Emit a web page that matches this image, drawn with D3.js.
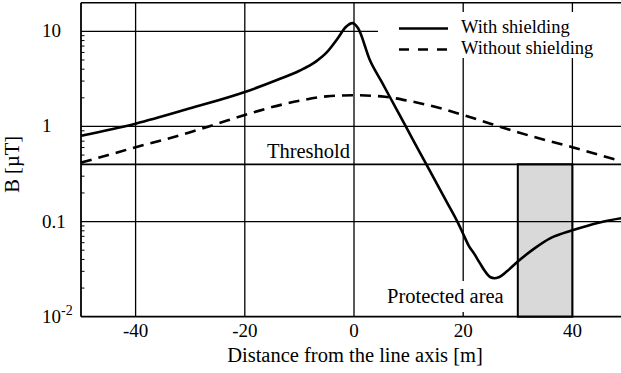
<!DOCTYPE html>
<html><head><meta charset="utf-8">
<script src="https://cdn.jsdelivr.net/npm/d3@7"></script>
<style>body{margin:0;background:#fff}</style>
</head><body><svg id="c" width="621" height="373"></svg>
<script>
const xTicks = [-40, -20, 0, 20, 40];
const yTicks = [0.01, 0.1, 1, 10];
const yTickLabels = ["10", "0.1", "1", "10"];
const xWith = [-50,-40,-30,-20,-14,-10,-7,-5,-3,-1.5,-0.3,0.75,2.9,5,8,11,14,17,19,20,21,22,23,24,25,25.7,26.5,28,30,33,36,40,45,50];
const yWith = [0.8,1.07,1.55,2.3,3.1,3.85,4.8,6.0,8.4,11.1,12.2,10.8,5.0,2.99,1.44,0.69,0.333,0.16,0.098,0.074,0.056,0.046,0.037,0.030,0.026,0.0254,0.026,0.030,0.038,0.052,0.067,0.081,0.098,0.111];
const xWithout = [-50,-45,-40,-35,-30,-25,-20,-15,-10,-5,0,5,10,15,20,25,30,35,40,45,50];
const yWithout = [0.417,0.50,0.605,0.72,0.87,1.07,1.32,1.60,1.86,2.07,2.13,2.07,1.86,1.60,1.32,1.07,0.87,0.72,0.605,0.50,0.417];
const threshold = 0.4;
const protectedArea = [30, 40];
const seriesNames = ["With shielding", "Without shielding"];

const svg = d3.select("#c");
const x = d3.scaleLinear().domain([-50, 50]).range([81, 627]);
const y = d3.scaleLog().domain([0.01, 20]).range([316.7, 2.7]);
const L = 81, R = 627, T = y(20), B = y(0.01);

svg.append("rect").attr("x", x(protectedArea[0])).attr("y", y(threshold))
  .attr("width", x(protectedArea[1]) - x(protectedArea[0])).attr("height", B - y(threshold))
  .attr("fill", "#d9d9d9").attr("stroke", "#000").attr("stroke-width", 2);

svg.append("g").selectAll("line").data(xTicks).join("line")
  .attr("x1", d => x(d)).attr("x2", d => x(d)).attr("y1", T).attr("y2", B)
  .attr("stroke", "#000").attr("stroke-width", 1.3);
svg.append("g").selectAll("line").data(yTicks.filter(d => d > 0.01)).join("line")
  .attr("x1", L).attr("x2", d => d === 10 ? 378 : R).attr("y1", d => y(d)).attr("y2", d => y(d))
  .attr("stroke", "#000").attr("stroke-width", 1.3);
svg.append("line").attr("x1", L).attr("x2", R).attr("y1", y(threshold)).attr("y2", y(threshold))
  .attr("stroke", "#000").attr("stroke-width", 1.8);

svg.append("rect").attr("x", 378).attr("y", 12).attr("width", 260).attr("height", 46).attr("fill", "#fff");
svg.append("rect").attr("x", 384).attr("y", 281).attr("width", 128).attr("height", 31).attr("fill", "#fff");

const minor = [];
[0.01, 0.1, 1].forEach(b => { for (let k = 2; k <= 9; k++) minor.push(b * k); });
svg.append("g").selectAll("line").data(minor).join("line")
  .attr("x1", L).attr("x2", L + 3.5).attr("y1", d => y(d)).attr("y2", d => y(d))
  .attr("stroke", "#000").attr("stroke-width", 1);

svg.append("line").attr("x1", L).attr("x2", R).attr("y1", T).attr("y2", T).attr("stroke", "#000").attr("stroke-width", 1.5);
svg.append("line").attr("x1", L).attr("x2", L).attr("y1", T).attr("y2", B).attr("stroke", "#000").attr("stroke-width", 1.8);
svg.append("line").attr("x1", L).attr("x2", R).attr("y1", B).attr("y2", B).attr("stroke", "#000").attr("stroke-width", 1.8);

const line = d3.line().x(d => x(d[0])).y(d => y(d[1])).curve(d3.curveMonotoneX);
svg.append("path").datum(xWithout.map((v, i) => [v, yWithout[i]])).attr("d", line)
  .attr("fill", "none").attr("stroke", "#000").attr("stroke-width", 2.6).attr("stroke-dasharray", "11,7");
svg.append("path").datum(xWith.map((v, i) => [v, yWith[i]])).attr("d", line)
  .attr("fill", "none").attr("stroke", "#000").attr("stroke-width", 2.6);

svg.append("line").attr("x1", 399).attr("x2", 448).attr("y1", 28.5).attr("y2", 28.5).attr("stroke", "#000").attr("stroke-width", 2.6);
svg.append("line").attr("x1", 399).attr("x2", 448).attr("y1", 49.5).attr("y2", 49.5).attr("stroke", "#000").attr("stroke-width", 2.6).attr("stroke-dasharray", "10,9");

const labels = [];
xTicks.forEach(d => labels.push({t: String(d), x: x(d), y: 337, s: 19, a: "middle"}));
yTicks.forEach((d, i) => labels.push({t: yTickLabels[i], x: 42, y: y(d) + 6, s: 19, a: "start", sup: d === 0.01 ? "-2" : null}));
labels.push({t: "Distance from the line axis [m]", x: 355, y: 362, s: 20.5, a: "middle"});
labels.push({t: "B [\u00B5T]", x: 0, y: 0, s: 20.5, a: "middle", tr: "translate(19," + y(0.4) + ") rotate(-90)"});
labels.push({t: "Threshold", x: 350, y: 158, s: 20.5, a: "end"});
labels.push({t: "Protected area", x: 387, y: 303, s: 20.5, a: "start"});
labels.push({t: seriesNames[0], x: 461, y: 32.5, s: 18.5, a: "start"});
labels.push({t: seriesNames[1], x: 461, y: 53.5, s: 18.5, a: "start"});

labels.forEach(l => {
  const t = svg.append("text").attr("x", l.x).attr("y", l.y)
    .attr("font-family", "Liberation Serif").style("font-family", "'Liberation Serif', 'Times New Roman', Tinos, FreeSerif")
    .attr("font-size", l.s).attr("text-anchor", l.a);
  if (l.tr) t.attr("transform", l.tr);
  t.append("tspan").text(l.t);
  if (l.sup) t.append("tspan").attr("dy", -8).attr("font-size", 14).text(l.sup);
});
</script></body></html>
